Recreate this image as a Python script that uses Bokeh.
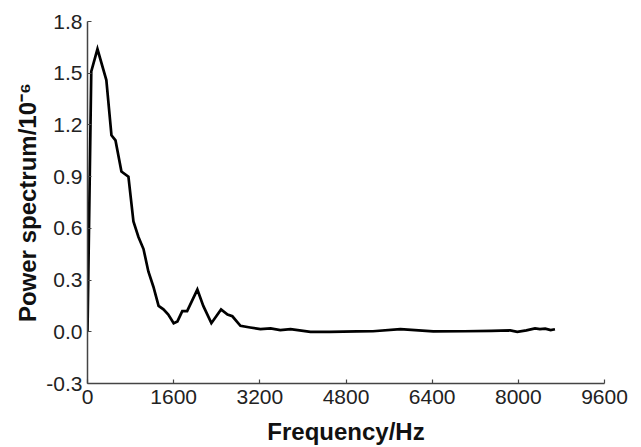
from bokeh.plotting import figure
from bokeh.models import FixedTicker, PrintfTickFormatter, Range1d
from bokeh.embed import file_html
from bokeh.resources import INLINE

freq = [0, 70, 185, 350, 445, 520, 630, 760, 853, 946, 1040, 1130, 1225, 1320,
        1410, 1500, 1600, 1670, 1760, 1850, 2040, 2150, 2300, 2480, 2600, 2690,
        2840, 3020, 3210, 3400, 3580, 3770, 4140, 4500, 5000, 5300, 5810, 6420,
        7000, 7500, 7850, 7980, 8150, 8310, 8400, 8500, 8600, 8680]
power = [0.0, 1.51, 1.64, 1.46, 1.14, 1.11, 0.93, 0.90, 0.64, 0.55, 0.48, 0.35,
         0.26, 0.15, 0.13, 0.10, 0.05, 0.06, 0.12, 0.12, 0.245, 0.15, 0.05, 0.13,
         0.10, 0.09, 0.035, 0.025, 0.015, 0.02, 0.01, 0.015, 0.0, 0.0, 0.002,
         0.003, 0.015, 0.002, 0.003, 0.005, 0.008, 0.0, 0.008, 0.02, 0.015, 0.018,
         0.01, 0.015]

x_ticks = [0, 1600, 3200, 4800, 6400, 8000, 9600]
y_ticks = [-0.3, 0.0, 0.3, 0.6, 0.9, 1.2, 1.5, 1.8]
x_title = "Frequency/Hz"
y_title = "Power spectrum/10\u207b\u2076"

p = figure(width=641, height=447, output_backend="svg", toolbar_location=None,
           x_range=Range1d(0, 9600), y_range=Range1d(-0.3, 1.8),
           min_border_left=87, min_border_right=37, min_border_top=21,
           min_border_bottom=64)
p.outline_line_color = None
p.xgrid.visible = False
p.ygrid.visible = False
p.background_fill_color = "white"
p.border_fill_color = "white"

p.line(freq, power, line_color="black", line_width=2.7, line_join="miter")

for ax in (p.xaxis[0], p.yaxis[0]):
    ax.axis_line_color = "#444444"
    ax.axis_line_width = 1.5
    ax.major_tick_line_color = "#444444"
    ax.major_tick_line_width = 1.2
    ax.major_tick_in = 4
    ax.major_tick_out = 0
    ax.minor_tick_line_color = None
    ax.major_label_text_font = "Liberation Sans"
    ax.major_label_text_font_size = "21px"
    ax.major_label_text_color = "#222222"
    ax.axis_label_text_font = "Liberation Sans"
    ax.axis_label_text_font_style = "bold"
    ax.axis_label_text_font_size = "24px"
    ax.axis_label_text_color = "#111111"

p.xaxis[0].ticker = FixedTicker(ticks=x_ticks)
p.yaxis[0].ticker = FixedTicker(ticks=y_ticks)
p.xaxis[0].formatter = PrintfTickFormatter(format="%d")
p.yaxis[0].formatter = PrintfTickFormatter(format="%.1f")
p.xaxis[0].major_label_standoff = 6
p.yaxis[0].major_label_standoff = 5
p.xaxis[0].axis_label = x_title
p.yaxis[0].axis_label = y_title
p.xaxis[0].axis_label_standoff = 11
p.yaxis[0].axis_label_standoff = 2

open("out.html", "w").write(file_html(p, INLINE))
